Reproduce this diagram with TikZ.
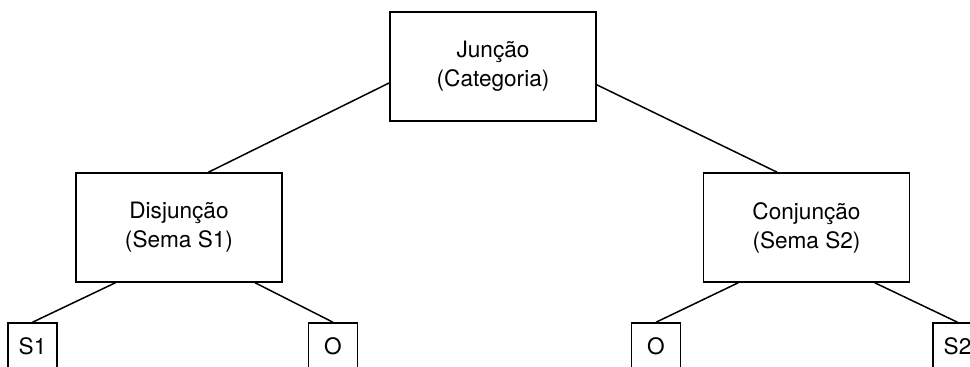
\documentclass[tikz,border=0pt]{standalone}
\usepackage{fontspec}
\setmainfont{TeX Gyre Heros}
\usetikzlibrary{positioning}

\begin{document}
\begin{tikzpicture}[x=0.5pt, y=-0.5pt,
box/.style={draw, line width=0.75pt, minimum width=103pt, minimum height=54.5pt, inner sep=0pt, align=center, font=\fontsize{11.3}{14.5}\selectfont},
leaf/.style={draw, line width=0.75pt, minimum width=24.5pt, minimum height=23pt, inner sep=0pt, font=\fontsize{11.3}{14.5}\selectfont},
link/.style={line width=0.75pt}
]
\useasboundingbox (0,0) rectangle (970,367);
\clip (0,0) rectangle (970,367);
\fill[white] (0,0) rectangle (970,367);

\node[box] (jun) at (493,66.5) {Junção\\(Categoria)};
\node[box] (dis) at (179,227.5) {Disjunção\\(Sema S1)};
\node[box] (con) at (806.5,227.5) {Conjunção\\(Sema S2)};

\node[leaf] (s1) at (32.5,346) {S1};
\node[leaf] (o1) at (333,346) {O};
\node[leaf] (o2) at (656,346) {O};
\node[leaf] (s2) at (957.5,346) {S2};

\draw[link] (jun.189) -- (dis.62);
\draw[link] (jun.350) -- (con.118);
\draw[link] (dis.221) -- (s1.north);
\draw[link] (dis.324) -- (o1.north);
\draw[link] (con.219) -- (o2.north);
\draw[link] (con.321) -- (s2.north);
\end{tikzpicture}
\end{document}
